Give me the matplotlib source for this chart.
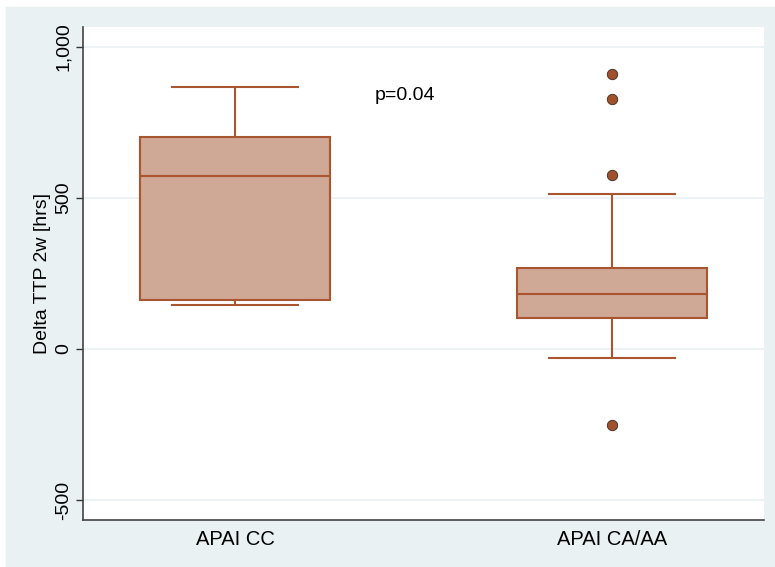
import matplotlib.pyplot as plt
from matplotlib.patches import Rectangle

groups = ["APAI CC", "APAI CA/AA"]
q1 = [162, 103]
median = [573, 182]
q3 = [702, 268]
whisker_low = [146, -30]
whisker_high = [867, 513]
outliers = [[], [910, 828, 576, -252]]
yticks = [-500, 0, 500, 1000]
ytick_labels = ["-500", "0", "500", "1,000"]

box_fill = "#CFA896"
box_edge = "#A9552F"
bg = "#EAF1F3"

plt.rcParams["font.family"] = ["Liberation Sans", "DejaVu Sans"]

fig = plt.figure(figsize=(7.75, 5.67), dpi=100)
# light backdrop, leaving a thin white margin on the left and top
fig.patches.append(Rectangle((6 / 775, 0), 1, 1 - 7 / 567,
                             transform=fig.transFigure, color=bg, zorder=-10))
ax = fig.add_axes([83 / 775, 47 / 567, 681 / 775, 493 / 567])

stats = []
for i, name in enumerate(groups):
    stats.append({"label": name, "q1": q1[i], "med": median[i], "q3": q3[i],
                  "whislo": whisker_low[i], "whishi": whisker_high[i],
                  "fliers": outliers[i]})

ax.bxp(stats, positions=[1, 2], widths=0.504, patch_artist=True,
       boxprops=dict(facecolor=box_fill, edgecolor=box_edge, linewidth=1.5),
       medianprops=dict(color=box_edge, linewidth=1.5),
       whiskerprops=dict(color=box_edge, linewidth=1.5),
       capprops=dict(color=box_edge, linewidth=1.5),
       capwidths=0.334,
       flierprops=dict(marker="o", markerfacecolor="#A0522D",
                       markeredgecolor="#3a2a20", markeredgewidth=0.6,
                       markersize=7.5))

ax.set_xlim(0.597, 2.403)
ax.set_ylim(-566, 1066)
ax.set_yticks(yticks)
ax.set_yticklabels(ytick_labels, rotation=90, va="center", fontsize=14)
ax.tick_params(axis="y", length=5, width=1, color="#333333", pad=3)
ax.tick_params(axis="x", length=0, pad=7)
for lbl in ax.get_xticklabels():
    lbl.set_fontsize(14.5)
ax.set_ylabel("Delta TTP 2w [hrs]", fontsize=14, labelpad=3)
ax.grid(axis="y", color=bg, linewidth=1.2)
ax.set_axisbelow(True)

for side in ["top", "right"]:
    ax.spines[side].set_visible(False)
for side in ["left", "bottom"]:
    ax.spines[side].set_color("#444444")
    ax.spines[side].set_linewidth(1.2)

ax.text(1.371, 840, "p=0.04", fontsize=14, ha="left", va="center")

fig.savefig("out.png", dpi=100, facecolor="white")
